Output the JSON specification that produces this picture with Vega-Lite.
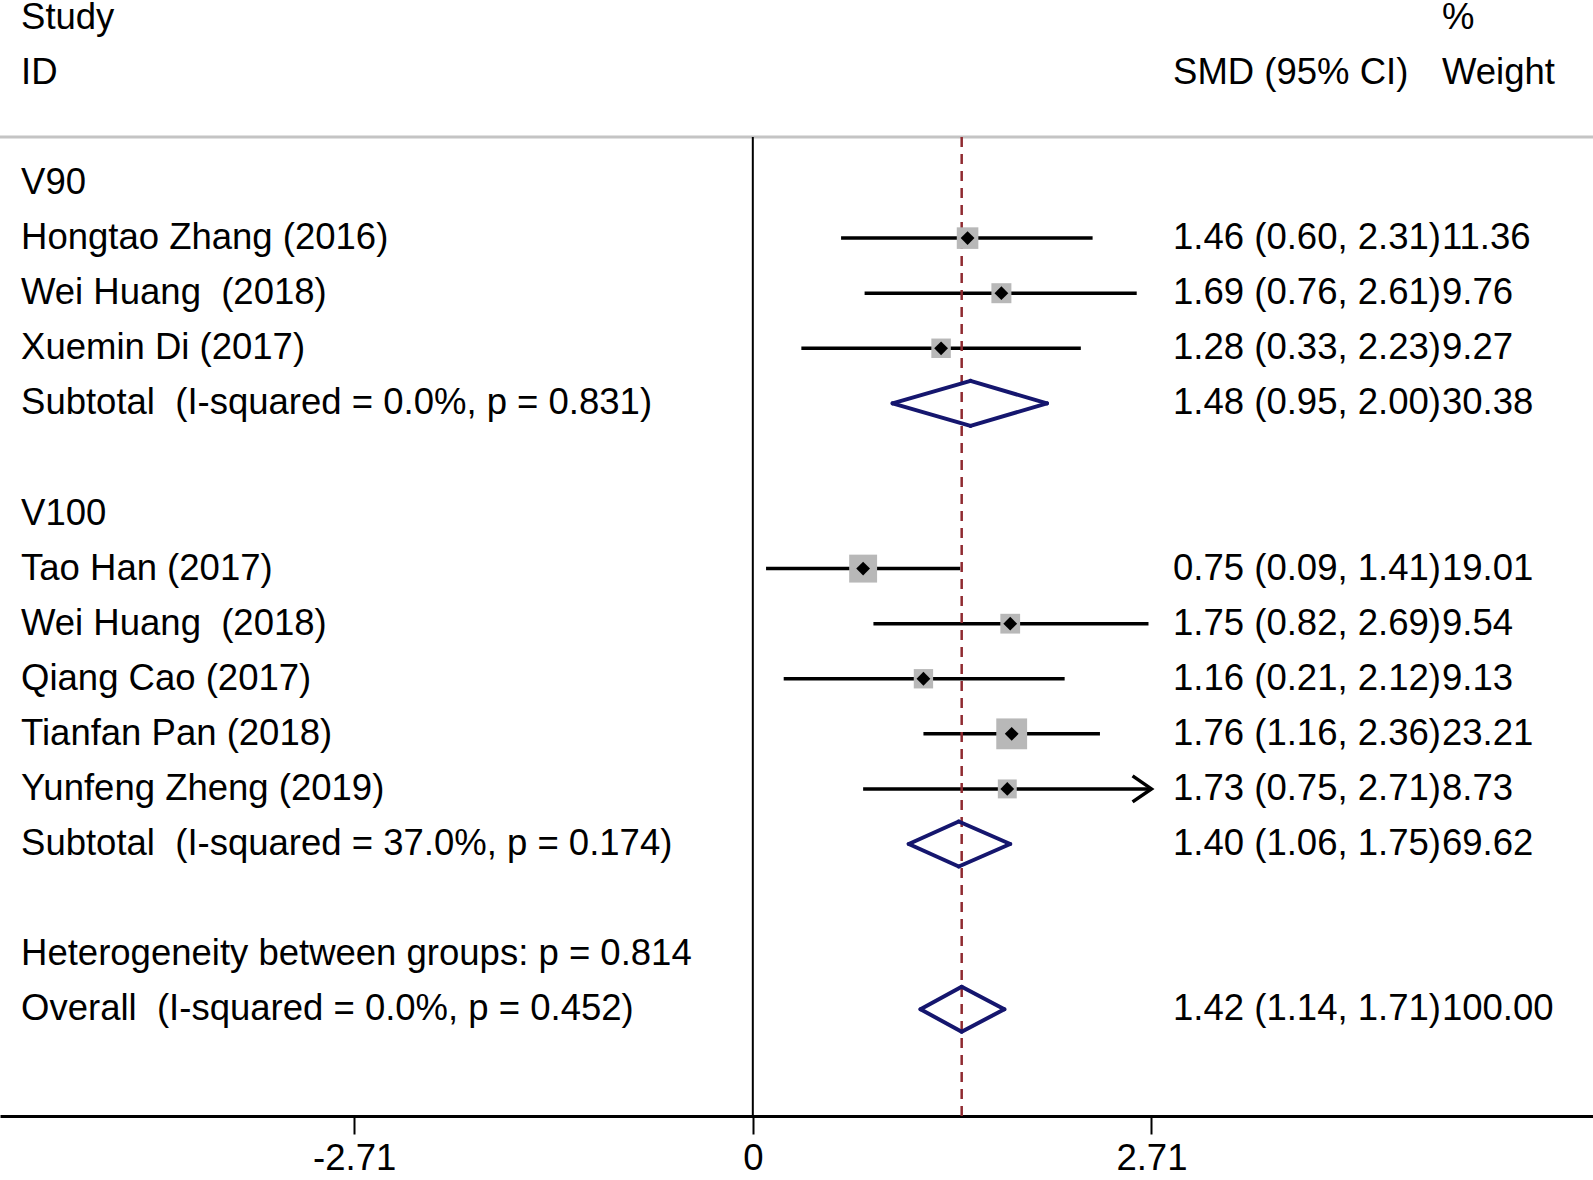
{
  "$schema": "https://vega.github.io/schema/vega-lite/v6.json",
  "width": 1593,
  "height": 1116,
  "autosize": {"type": "none"},
  "padding": {"left": 0, "top": 0, "right": 0, "bottom": 64},
  "background": "white",
  "config": {
    "view": {"stroke": null},
    "font": "Liberation Sans",
    "axisX": {"title": null, "grid": false, "domainColor": "black", "domainWidth": 3, "tickColor": "black", "tickWidth": 2, "tickSize": 18, "labelFontSize": 36.5, "labelFont": "Liberation Sans", "labelColor": "black", "labelPadding": 6, "labelFlush": false, "labelOverlap": false}
  },
  "datasets": {
    "table": [
      {"row": 0, "label": "Study", "ci": "", "wt": "%"},
      {"row": 1, "label": "ID", "ci": "SMD (95% CI)", "wt": "Weight"},
      {"row": 3, "label": "V90", "ci": "", "wt": ""},
      {"row": 4, "label": "Hongtao Zhang (2016)", "ci": "1.46 (0.60, 2.31)", "wt": "11.36"},
      {"row": 5, "label": "Wei Huang\u00a0 (2018)", "ci": "1.69 (0.76, 2.61)", "wt": "9.76"},
      {"row": 6, "label": "Xuemin Di (2017)", "ci": "1.28 (0.33, 2.23)", "wt": "9.27"},
      {"row": 7, "label": "Subtotal\u00a0 (I-squared = 0.0%, p = 0.831)", "ci": "1.48 (0.95, 2.00)", "wt": "30.38"},
      {"row": 9, "label": "V100", "ci": "", "wt": ""},
      {"row": 10, "label": "Tao Han (2017)", "ci": "0.75 (0.09, 1.41)", "wt": "19.01"},
      {"row": 11, "label": "Wei Huang\u00a0 (2018)", "ci": "1.75 (0.82, 2.69)", "wt": "9.54"},
      {"row": 12, "label": "Qiang Cao (2017)", "ci": "1.16 (0.21, 2.12)", "wt": "9.13"},
      {"row": 13, "label": "Tianfan Pan (2018)", "ci": "1.76 (1.16, 2.36)", "wt": "23.21"},
      {"row": 14, "label": "Yunfeng Zheng (2019)", "ci": "1.73 (0.75, 2.71)", "wt": "8.73"},
      {"row": 15, "label": "Subtotal\u00a0 (I-squared = 37.0%, p = 0.174)", "ci": "1.40 (1.06, 1.75)", "wt": "69.62"},
      {"row": 17, "label": "Heterogeneity between groups: p = 0.814", "ci": "", "wt": ""},
      {"row": 18, "label": "Overall\u00a0 (I-squared = 0.0%, p = 0.452)", "ci": "1.42 (1.14, 1.71)", "wt": "100.00"}
    ],
    "studies": [
      {"row": 4, "est": 1.46, "lo": 0.60, "hi": 2.31, "weight": 11.36},
      {"row": 5, "est": 1.69, "lo": 0.76, "hi": 2.61, "weight": 9.76},
      {"row": 6, "est": 1.28, "lo": 0.33, "hi": 2.23, "weight": 9.27},
      {"row": 10, "est": 0.75, "lo": 0.09, "hi": 1.41, "weight": 19.01},
      {"row": 11, "est": 1.75, "lo": 0.82, "hi": 2.69, "weight": 9.54},
      {"row": 12, "est": 1.16, "lo": 0.21, "hi": 2.12, "weight": 9.13},
      {"row": 13, "est": 1.76, "lo": 1.16, "hi": 2.36, "weight": 23.21},
      {"row": 14, "est": 1.73, "lo": 0.75, "hi": 2.71, "weight": 8.73}
    ],
    "pooled": [
      {"row": 7, "est": 1.48, "lo": 0.95, "hi": 2.00},
      {"row": 15, "est": 1.40, "lo": 1.06, "hi": 1.75},
      {"row": 18, "est": 1.42, "lo": 1.14, "hi": 1.71}
    ]
  },
  "layer": [
    {
      "data": {"name": "studies"},
      "mark": {"type": "rule", "color": "black", "strokeWidth": 3.5},
      "encoding": {
        "x": {"field": "lo", "type": "quantitative", "scale": {"domain": [-5.118, 5.712], "nice": false, "zero": false},
          "axis": {"values": [-2.71, 0, 2.71], "labelExpr": "datum.value === 0 ? '0' : (datum.value < 0 ? '-' : '') + format(abs(datum.value), '.2f')"}},
        "x2": {"field": "hi"},
        "y": {"field": "row", "type": "quantitative", "axis": null, "scale": {"domain": [-0.323, 19.938], "nice": false, "zero": false, "reverse": true}}
      }
    },
    {
      "data": {"values": [{}]},
      "mark": {"type": "rule", "color": "#c4c4c4", "strokeWidth": 3},
      "encoding": {
        "y": {"datum": 2.164, "type": "quantitative", "axis": null, "scale": {"domain": [-0.323, 19.938], "nice": false, "zero": false, "reverse": true}}
      }
    },
    {
      "data": {"values": [{}]},
      "mark": {"type": "rule", "color": "black", "strokeWidth": 2},
      "encoding": {
        "x": {"datum": 0, "type": "quantitative", "scale": {"domain": [-5.118, 5.712], "nice": false, "zero": false},
          "axis": {"values": [-2.71, 0, 2.71], "labelExpr": "datum.value === 0 ? '0' : (datum.value < 0 ? '-' : '') + format(abs(datum.value), '.2f')"}},
        "y": {"datum": 2.164, "type": "quantitative", "axis": null, "scale": {"domain": [-0.323, 19.938], "nice": false, "zero": false, "reverse": true}},
        "y2": {"datum": 19.938}
      }
    },
    {
      "data": {"values": [{}]},
      "mark": {"type": "rule", "color": "#8f2a30", "strokeWidth": 2.5, "strokeDash": [10, 7]},
      "encoding": {
        "x": {"datum": 1.42, "type": "quantitative", "scale": {"domain": [-5.118, 5.712], "nice": false, "zero": false},
          "axis": {"values": [-2.71, 0, 2.71], "labelExpr": "datum.value === 0 ? '0' : (datum.value < 0 ? '-' : '') + format(abs(datum.value), '.2f')"}},
        "y": {"datum": 2.164, "type": "quantitative", "axis": null, "scale": {"domain": [-0.323, 19.938], "nice": false, "zero": false, "reverse": true}},
        "y2": {"datum": 19.938}
      }
    },
    {
      "data": {"name": "studies"},
      "mark": {"type": "point", "shape": "square", "filled": true, "color": "#b8b8b8", "opacity": 1},
      "encoding": {
        "x": {"field": "est", "type": "quantitative", "scale": {"domain": [-5.118, 5.712], "nice": false, "zero": false},
          "axis": {"values": [-2.71, 0, 2.71], "labelExpr": "datum.value === 0 ? '0' : (datum.value < 0 ? '-' : '') + format(abs(datum.value), '.2f')"}},
        "y": {"field": "row", "type": "quantitative", "axis": null, "scale": {"domain": [-0.323, 19.938], "nice": false, "zero": false, "reverse": true}},
        "size": {"field": "weight", "type": "quantitative", "legend": null, "scale": {"type": "linear", "domain": [0, 100], "range": [0, 4100], "zero": true}}
      }
    },
    {
      "data": {"name": "studies"},
      "mark": {"type": "point", "shape": "diamond", "filled": true, "color": "black", "opacity": 1, "size": 190},
      "encoding": {
        "x": {"field": "est", "type": "quantitative", "scale": {"domain": [-5.118, 5.712], "nice": false, "zero": false},
          "axis": {"values": [-2.71, 0, 2.71], "labelExpr": "datum.value === 0 ? '0' : (datum.value < 0 ? '-' : '') + format(abs(datum.value), '.2f')"}},
        "y": {"field": "row", "type": "quantitative", "axis": null, "scale": {"domain": [-0.323, 19.938], "nice": false, "zero": false, "reverse": true}}
      }
    },
    {
      "data": {"name": "studies"},
      "transform": [{"filter": {"field": "hi", "gte": 2.71}}],
      "mark": {"type": "point", "shape": "M-1.45,-1L0,0L-1.45,1", "filled": false, "stroke": "black", "strokeWidth": 3.5, "opacity": 1, "size": 676},
      "encoding": {
        "x": {"field": "hi", "type": "quantitative", "scale": {"domain": [-5.118, 5.712], "nice": false, "zero": false},
          "axis": {"values": [-2.71, 0, 2.71], "labelExpr": "datum.value === 0 ? '0' : (datum.value < 0 ? '-' : '') + format(abs(datum.value), '.2f')"}},
        "y": {"field": "row", "type": "quantitative", "axis": null, "scale": {"domain": [-0.323, 19.938], "nice": false, "zero": false, "reverse": true}}
      }
    },
    {
      "data": {"name": "pooled"},
      "mark": {"type": "rule", "color": "#15166e", "strokeWidth": 4, "strokeCap": "round", "y2Offset": -22.5},
      "encoding": {
        "x": {"field": "lo", "type": "quantitative", "scale": {"domain": [-5.118, 5.712], "nice": false, "zero": false},
          "axis": {"values": [-2.71, 0, 2.71], "labelExpr": "datum.value === 0 ? '0' : (datum.value < 0 ? '-' : '') + format(abs(datum.value), '.2f')"}},
        "x2": {"field": "est"},
        "y": {"field": "row", "type": "quantitative", "axis": null, "scale": {"domain": [-0.323, 19.938], "nice": false, "zero": false, "reverse": true}},
        "y2": {"field": "row"}
      }
    },
    {
      "data": {"name": "pooled"},
      "mark": {"type": "rule", "color": "#15166e", "strokeWidth": 4, "strokeCap": "round", "yOffset": -22.5},
      "encoding": {
        "x": {"field": "est", "type": "quantitative", "scale": {"domain": [-5.118, 5.712], "nice": false, "zero": false},
          "axis": {"values": [-2.71, 0, 2.71], "labelExpr": "datum.value === 0 ? '0' : (datum.value < 0 ? '-' : '') + format(abs(datum.value), '.2f')"}},
        "x2": {"field": "hi"},
        "y": {"field": "row", "type": "quantitative", "axis": null, "scale": {"domain": [-0.323, 19.938], "nice": false, "zero": false, "reverse": true}},
        "y2": {"field": "row"}
      }
    },
    {
      "data": {"name": "pooled"},
      "mark": {"type": "rule", "color": "#15166e", "strokeWidth": 4, "strokeCap": "round", "y2Offset": 22.5},
      "encoding": {
        "x": {"field": "hi", "type": "quantitative", "scale": {"domain": [-5.118, 5.712], "nice": false, "zero": false},
          "axis": {"values": [-2.71, 0, 2.71], "labelExpr": "datum.value === 0 ? '0' : (datum.value < 0 ? '-' : '') + format(abs(datum.value), '.2f')"}},
        "x2": {"field": "est"},
        "y": {"field": "row", "type": "quantitative", "axis": null, "scale": {"domain": [-0.323, 19.938], "nice": false, "zero": false, "reverse": true}},
        "y2": {"field": "row"}
      }
    },
    {
      "data": {"name": "pooled"},
      "mark": {"type": "rule", "color": "#15166e", "strokeWidth": 4, "strokeCap": "round", "yOffset": 22.5},
      "encoding": {
        "x": {"field": "est", "type": "quantitative", "scale": {"domain": [-5.118, 5.712], "nice": false, "zero": false},
          "axis": {"values": [-2.71, 0, 2.71], "labelExpr": "datum.value === 0 ? '0' : (datum.value < 0 ? '-' : '') + format(abs(datum.value), '.2f')"}},
        "x2": {"field": "lo"},
        "y": {"field": "row", "type": "quantitative", "axis": null, "scale": {"domain": [-0.323, 19.938], "nice": false, "zero": false, "reverse": true}},
        "y2": {"field": "row"}
      }
    },
    {
      "data": {"name": "table"},
      "mark": {"type": "text", "align": "left", "baseline": "middle", "fontSize": 36.5, "font": "Liberation Sans", "color": "black"},
      "encoding": {
        "x": {"datum": -4.975, "type": "quantitative", "scale": {"domain": [-5.118, 5.712], "nice": false, "zero": false},
          "axis": {"values": [-2.71, 0, 2.71], "labelExpr": "datum.value === 0 ? '0' : (datum.value < 0 ? '-' : '') + format(abs(datum.value), '.2f')"}},
        "y": {"field": "row", "type": "quantitative", "axis": null, "scale": {"domain": [-0.323, 19.938], "nice": false, "zero": false, "reverse": true}},
        "text": {"field": "label", "type": "nominal"}
      }
    },
    {
      "data": {"name": "table"},
      "mark": {"type": "text", "align": "left", "baseline": "middle", "fontSize": 36.5, "font": "Liberation Sans", "color": "black"},
      "encoding": {
        "x": {"datum": 2.857, "type": "quantitative", "scale": {"domain": [-5.118, 5.712], "nice": false, "zero": false},
          "axis": {"values": [-2.71, 0, 2.71], "labelExpr": "datum.value === 0 ? '0' : (datum.value < 0 ? '-' : '') + format(abs(datum.value), '.2f')"}},
        "y": {"field": "row", "type": "quantitative", "axis": null, "scale": {"domain": [-0.323, 19.938], "nice": false, "zero": false, "reverse": true}},
        "text": {"field": "ci", "type": "nominal"}
      }
    },
    {
      "data": {"name": "table"},
      "mark": {"type": "text", "align": "left", "baseline": "middle", "fontSize": 36.5, "font": "Liberation Sans", "color": "black"},
      "encoding": {
        "x": {"datum": 4.685, "type": "quantitative", "scale": {"domain": [-5.118, 5.712], "nice": false, "zero": false},
          "axis": {"values": [-2.71, 0, 2.71], "labelExpr": "datum.value === 0 ? '0' : (datum.value < 0 ? '-' : '') + format(abs(datum.value), '.2f')"}},
        "y": {"field": "row", "type": "quantitative", "axis": null, "scale": {"domain": [-0.323, 19.938], "nice": false, "zero": false, "reverse": true}},
        "text": {"field": "wt", "type": "nominal"}
      }
    }
  ]
}
